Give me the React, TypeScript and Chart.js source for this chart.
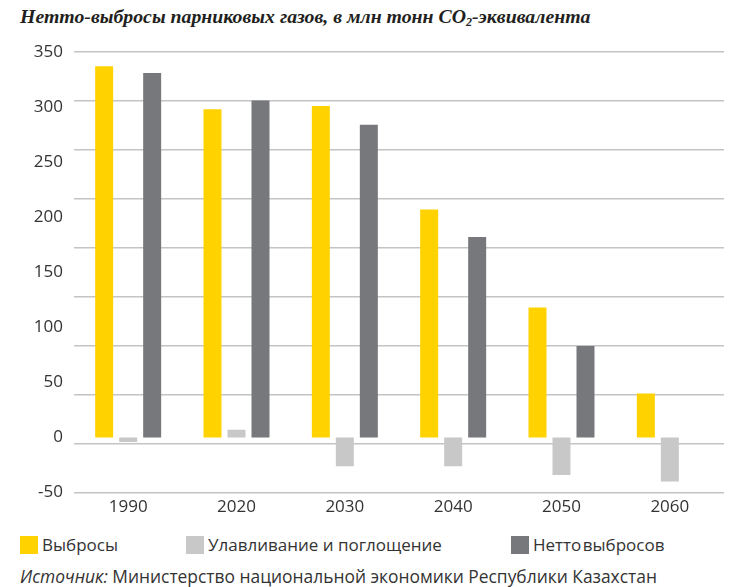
import React, { useEffect, useRef } from "react";
import { Chart, registerables } from "chart.js";

Chart.register(...registerables);

const categories = ["1990", "2020", "2030", "2040", "2050", "2060"];
const emissions = [337, 298, 301, 207, 118, 40];
const capture = [-4, 7, -26, -26, -34, -40];
const netEmissions = [331, 306, 284, 182, 83, 0];
const seriesNames = ["Выбросы", "Улавливание и поглощение", "Нетто выбросов"];
const yMin = -50;
const yMax = 350;
const yStep = 50;

const YELLOW = "#FFD200";
const LIGHT = "#C8C8C9";
const DARK = "#77787B";
const TEXT = "#333333";
const FONT = "'Open Sans', 'Noto Sans', sans-serif";

export default function App() {
  const ref = useRef<HTMLCanvasElement | null>(null);

  useEffect(() => {
    if (!ref.current) return;
    const chart = new Chart(ref.current, {
      type: "bar",
      data: {
        labels: categories,
        datasets: [
          { label: seriesNames[0], data: emissions, backgroundColor: YELLOW, yAxisID: "y" },
          { label: seriesNames[1], data: capture, backgroundColor: LIGHT, yAxisID: "y" },
          { label: seriesNames[2], data: netEmissions, backgroundColor: DARK, yAxisID: "y" },
        ],
      },
      options: {
        animation: false,
        responsive: false,
        maintainAspectRatio: false,
        layout: { padding: { top: 22, right: 11, bottom: 9, left: 0 } },
        datasets: {
          bar: { categoryPercentage: 0.6646, barPercentage: 0.75, borderWidth: 0 },
        },
        plugins: {
          legend: { display: false },
          tooltip: { enabled: false },
          title: { display: false },
        },
        scales: {
          x: {
            grid: { display: false, drawTicks: false, tickLength: 0 },
            border: { display: false },
            ticks: { color: TEXT, font: { family: FONT, size: 17 }, padding: 4 },
          },
          y: {
            type: "linear",
            position: "left",
            min: yMin,
            max: yMax,
            grid: { display: false, drawTicks: false, tickLength: 0 },
            border: { display: false },
            ticks: { stepSize: yStep, color: TEXT, font: { family: FONT, size: 17 }, padding: 11 },
            afterFit: (s: any) => {
              s.width = 74;
            },
          },
          g: {
            type: "linear",
            position: "left",
            min: 0,
            max: 9,
            grid: { color: "#C4C4C4", lineWidth: 1.5, drawTicks: false, tickLength: 0 },
            border: { display: false },
            ticks: { display: false, stepSize: 1 },
            afterFit: (s: any) => {
              s.width = 0;
            },
          },
        },
      },
    });
    return () => chart.destroy();
  }, []);

  const legendItems = [
    { name: seriesNames[0], color: YELLOW, left: 20 },
    { name: seriesNames[1], color: LIGHT, left: 186 },
    { name: seriesNames[2], color: DARK, left: 511 },
  ];

  return (
    <div
      style={{
        position: "absolute",
        left: 0,
        top: 0,
        width: 735,
        height: 587,
        background: "#ffffff",
        overflow: "hidden",
      }}
    >
      <div
        style={{
          position: "absolute",
          left: 20,
          top: 4,
          fontFamily: "'Liberation Serif', 'DejaVu Serif', serif",
          fontWeight: "bold",
          fontStyle: "italic",
          fontSize: 19.8,
          color: "#231F20",
          whiteSpace: "nowrap",
          lineHeight: "24px",
        }}
      >
        Нетто-выбросы парниковых газов, в млн тонн CO
        <sub style={{ fontSize: 12, verticalAlign: "-3px" }}>2</sub>-эквивалента
      </div>
      <div style={{ position: "absolute", left: 0, top: 30, width: 735, height: 500 }}>
        <canvas ref={ref} width={735} height={500} style={{ width: 735, height: 500 }} />
      </div>
      {legendItems.map((it) => (
        <div
          key={it.name}
          style={{
            position: "absolute",
            left: it.left,
            top: 536,
            display: "flex",
            alignItems: "center",
            fontFamily: FONT,
            fontSize: 17,
            color: TEXT,
            whiteSpace: "nowrap",
            lineHeight: "18px",
          }}
        >
          <span style={{ display: "inline-block", width: 18, height: 18, background: it.color, marginRight: 4 }} />
          <span style={{ wordSpacing: it.left === 511 ? -3 : 0 }}>{it.name}</span>
        </div>
      ))}
      <div
        style={{
          position: "absolute",
          left: 20,
          top: 565,
          fontFamily: FONT,
          fontSize: 17.4,
          color: TEXT,
          whiteSpace: "nowrap",
          lineHeight: "22px",
        }}
      >
        <i>Источник:</i> Министерство национальной экономики Республики Казахстан
      </div>
    </div>
  );
}
